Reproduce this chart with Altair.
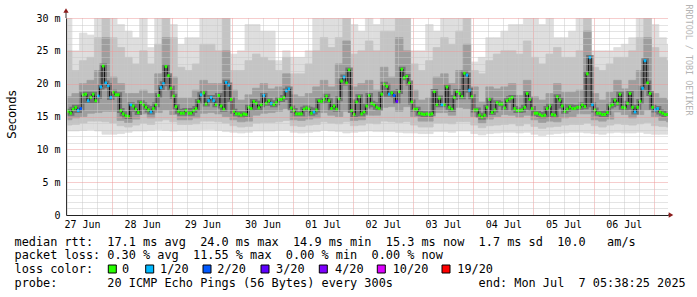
import altair as alt
import pandas as pd

NB = "\u00a0"
MONO = "DejaVu Sans Mono"

# ---------------- data ----------------
X_START = 5.64      # hours after 27 Jun 00:00
X_END = 245.64      # Mon Jul 7 05:38:25

day_labels = ["27 Jun", "28 Jun", "29 Jun", "30 Jun", "01 Jul",
              "02 Jul", "03 Jul", "04 Jul", "05 Jul", "06 Jul"]

median_hours = list(range(5, 246))
median_ms = [
    15.8,
    15.8, 15.5, 16.1, 16.4, 15.9, 16.2, 18.3, 18.4, 17.4, 17.9,
    18.4, 17.4, 18.1, 19.5, 22.7, 20.1, 19.7, 17.9, 18.7, 18.3,
    18.3, 15.9, 15.4, 15.1, 15.0, 16.8, 16.6, 16.1, 15.6, 17.1,
    16.8, 16.4, 16.0, 15.7, 16.2, 16.8, 18.2, 19.4, 20.0, 22.6,
    21.2, 19.3, 18.1, 16.5, 15.8, 15.5, 15.5, 15.9, 15.5, 15.5,
    15.9, 16.2, 17.3, 18.3, 18.6, 16.9, 17.4, 17.9, 17.4, 16.8,
    18.2,
    16.6, 16.1, 20.2, 19.8, 17.6, 15.8, 15.4, 15.4, 15.2, 15.4,
    15.3, 16.4, 16.2, 17.3, 17.0, 16.3, 16.8, 18.2, 17.0, 17.4,
    17.0, 16.8, 17.1, 17.6, 17.6, 17.9, 18.9, 19.2, 16.3, 15.9,
    15.4, 15.4, 15.4, 16.1, 16.3, 16.1, 15.5, 15.7, 16.0, 17.4,
    17.3, 17.6, 18.1, 17.4, 16.2, 16.6, 16.1, 17.7, 20.4, 21.0,
    20.1, 22.1, 15.9, 15.3, 17.2, 18.0, 15.4, 15.7, 16.6, 18.2,
    17.0, 16.8, 16.4, 16.2, 18.4, 19.9, 19.6, 18.4, 18.6, 18.2,
    17.3, 18.8, 22.2, 20.9, 21.1, 20.1, 17.2, 16.1, 16.1, 15.5,
    15.4, 15.3, 15.4, 15.3, 15.4, 18.8, 16.8, 17.8, 16.8, 16.8,
    19.5, 16.4, 16.1, 17.9, 18.8, 18.5, 18.0, 21.6, 21.3, 19.0,
    18.0, 16.0, 16.0, 15.2, 14.9, 15.2, 16.4, 17.6, 15.6, 16.0,
    17.1, 16.9, 16.9, 16.3, 17.4, 17.7, 17.9, 16.2, 15.9,
    15.9, 16.0, 16.4, 18.5, 17.6, 16.2, 15.5, 15.5, 15.3, 15.1,
    15.2, 16.2, 16.6, 15.3, 15.2, 18.0, 17.5, 16.6, 15.8, 16.1,
    16.5, 16.2, 16.2, 16.4, 16.4, 16.8, 16.5, 21.5, 24.0, 16.8,
    16.0, 15.5, 15.5, 15.3, 15.3, 15.6, 16.6, 16.8, 17.5, 17.0,
    18.4, 16.4, 16.3, 17.0, 18.5, 16.4, 15.7, 16.4, 17.3, 19.3,
    23.5, 20.1, 18.5, 16.4, 16.0, 16.2, 15.7, 15.5, 15.3,
    15.3,
]

loss_hours = [10, 11, 14, 18, 19, 21, 22, 23, 31, 39, 43, 44, 59, 62, 63, 64,
              69, 70, 84, 87, 93, 94, 104, 116, 134, 136, 137, 155, 165, 166,
              214, 215, 232, 235, 236, 240, 241]
loss_counts = [1, 2, 1, 1, 1, 1, 1, 1, 1, 1, 1, 1, 1, 1, 1, 1,
               1, 1, 1, 1, 1, 1, 1, 1, 1, 2, 3, 1, 1, 1,
               1, 1, 1, 1, 1, 1, 1]

loss_labels = ["0", "1/20", "2/20", "3/20", "4/20", "10/20", "19/20"]
loss_colors = ["#26ff00", "#00b8ff", "#0059ff", "#5e00ff", "#7e00ff", "#dd00ff", "#ff0000"]

# smoke, in 3-hour blocks starting at hour 5
block_start = list(range(5, 246, 3))
smoke_top1 = [30, 25, 27.7, 27.4, 30, 30, 30, 29, 28, 27,
              30, 25.5, 30, 30, 29, 26, 27, 27, 30, 30,
              30, 30, 24.5, 25, 29, 29, 28, 28, 23.5, 25,
              24, 24, 25, 30, 30, 30, 30, 30, 29, 28,
              30, 29, 30, 30, 30, 30, 25, 25, 29, 28,
              30, 30, 30, 30, 23.3, 24, 27, 27, 28, 29,
              29, 30, 30, 29, 30, 27, 27, 28, 30, 30,
              25, 25, 25, 25.5, 26, 27, 30, 30, 29, 27,
              26]
smoke_top2 = [25, 22, 23.5, 24, 27, 30, 27, 25.5, 24, 23,
              25, 23, 26, 30, 27, 22.5, 22, 23, 26, 26,
              25, 30, 22, 22, 23.5, 24.5, 24, 23.5, 22, 24,
              21.5, 21.5, 23, 25, 27, 25.5, 27, 30, 24.5, 25,
              26.5, 25, 28, 28, 30, 30, 23, 22, 23.5, 25.5,
              27, 26, 28, 30, 22, 21.5, 23.5, 24.5, 25, 25,
              24.5, 26.5, 24, 23, 24.5, 25.5, 24, 24, 25, 30,
              22.5, 22, 23, 24, 24, 25, 27, 30, 25.5, 24,
              23.5]
smoke_top3 = [18, 18.5, 20, 20.5, 22, 27, 21, 20, 18.5, 18.5,
              19, 18.5, 21.5, 27, 21, 17.8, 17.8, 19, 20.5, 20,
              20, 25, 19, 17.5, 18.3, 19.3, 20, 19.2, 19.5, 21.5,
              18.3, 18, 18.5, 19.5, 20.5, 19.5, 23, 26.5, 19.5, 20,
              20.5, 19, 22.5, 21, 27, 25, 19, 17.5, 17.8, 21,
              21.5, 20, 22, 26, 19.5, 17.2, 19.5, 19.2, 19.5, 20,
              18.2, 20.5, 18, 17.5, 18.5, 20, 18.7, 18.7, 19, 28,
              18.5, 17.5, 18.7, 20.5, 19.2, 20.5, 22, 27, 18.5, 17.8,
              17.5]
smoke_bot3 = [14.5, 14.8, 15.0, 15.5, 15.6, 15.8, 15.8, 14.4, 14.1, 14.6,
              15.4, 14.8, 15.6, 16.0, 15.3, 14.5, 14.5, 14.8, 15.5, 15.6,
              15.4, 15.0, 14.5, 14.2, 14.3, 15.2, 15.5, 15.6, 15.8, 16.2,
              14.5, 14.4, 14.6, 14.8, 15.6, 15.2, 15.0, 15.8, 14.4, 14.5,
              15.2, 15.2, 16.4, 16.5, 15.8, 16.5, 15.0, 14.3, 14.3, 15.6,
              15.6, 15.2, 16.4, 16.2, 15.0, 14.0, 14.6, 15.0, 15.3, 15.2,
              14.9, 15.2, 14.5, 14.1, 14.3, 14.2, 14.8, 15.0, 15.4, 15.4,
              14.5, 14.3, 14.6, 15.7, 15.3, 14.8, 15.3, 16.0, 15.0, 14.4,
              14.2]
smoke_bot2 = [13.7, 13.8, 14.0, 14.3, 14.3, 14.2, 14.0, 13.6, 13.4, 13.7,
              14.0, 13.8, 14.3, 14.5, 14.2, 13.8, 13.8, 13.9, 14.3, 14.3,
              14.2, 14.0, 13.6, 13.4, 13.5, 14.0, 14.1, 14.1, 14.2, 14.4,
              13.6, 13.5, 13.7, 13.8, 14.2, 14.0, 13.9, 14.2, 13.6, 13.7,
              14.0, 13.9, 14.3, 14.2, 14.1, 14.2, 13.7, 13.4, 13.4, 14.0,
              14.0, 13.9, 14.2, 14.2, 13.7, 13.3, 13.6, 13.7, 13.8, 13.9,
              13.6, 13.9, 13.5, 13.2, 13.4, 13.5, 13.7, 13.8, 13.8, 14.0,
              13.6, 13.4, 13.7, 13.9, 13.8, 13.7, 13.9, 14.1, 13.6, 13.5,
              13.4]
smoke_bot1 = [12.8, 12.8, 12.9, 13.0, 12.8, 12.3, 12.3, 12.4, 12.6, 12.8,
              12.8, 12.9, 13.0, 12.9, 12.8, 12.9, 12.9, 12.9, 13.0, 13.0,
              12.9, 12.7, 12.6, 12.5, 12.6, 12.8, 12.8, 12.8, 12.9, 12.9,
              12.6, 12.5, 12.6, 12.7, 12.9, 12.8, 12.7, 12.5, 12.6, 12.7,
              12.8, 12.7, 12.7, 12.7, 12.6, 12.5, 12.5, 12.4, 12.4, 12.7,
              12.7, 12.6, 12.8, 12.8, 12.4, 12.2, 12.4, 12.5, 12.6, 12.6,
              12.5, 12.6, 12.3, 12.1, 12.3, 12.4, 12.5, 12.6, 12.6, 12.5,
              12.4, 12.3, 12.5, 12.6, 12.5, 12.5, 12.6, 12.4, 12.3, 12.3,
              12.3]

# ---------------- tables ----------------
loss_map = dict(zip(loss_hours, loss_counts))
med_df = pd.DataFrame({
    "h": median_hours,
    "ms": median_ms,
    "loss": [f"{loss_map[h]}/20" if h in loss_map else "0" for h in median_hours],
})
smoke_df = pd.DataFrame({
    "start": block_start,
    "top1": smoke_top1, "top2": smoke_top2, "top3": smoke_top3,
    "bot3": smoke_bot3, "bot2": smoke_bot2, "bot1": smoke_bot1,
})
one = pd.DataFrame({"k": [0]})

# ---------------- scales / axes ----------------
xs = alt.Scale(domain=[X_START, X_END], nice=False, zero=False)
ys = alt.Scale(domain=[0, 30], nice=False, zero=True)

minor_x = [h for h in range(6, 246, 6) if h % 24 != 0]
major_x = list(range(24, 246, 24))
label_x = [12 + 24 * i for i in range(len(day_labels))]
minor_y = [v for v in range(1, 30) if v % 5 != 0]
major_y = list(range(5, 31, 5))

GRID_MINOR = "#c8c8c8"
GRID_MAJOR = "#ec9a9a"

ax_x_minor = alt.Axis(orient="bottom", values=minor_x, grid=True, gridColor=GRID_MINOR,
                      gridDash=[1, 1], gridWidth=1, labels=False, ticks=False,
                      domain=False, title=None, zindex=1)
ax_y_minor = alt.Axis(orient="left", values=minor_y, grid=True, gridColor=GRID_MINOR,
                      gridDash=[1, 1], gridWidth=1, labels=False, ticks=False,
                      domain=False, title=None, zindex=1)
ax_x_major = alt.Axis(orient="bottom", values=major_x, grid=True, gridColor=GRID_MAJOR,
                      gridDash=[1, 1], gridWidth=1, labels=False, ticks=False,
                      domain=False, title=None, zindex=1)
ax_y_major = alt.Axis(orient="left", values=major_y, grid=True, gridColor=GRID_MAJOR,
                      gridDash=[1, 1], gridWidth=1, labels=False, ticks=False,
                      domain=False, title=None, zindex=1)

label_expr_x = "[" + ",".join("'" + d.replace(" ", NB) + "'" for d in day_labels) + "][floor(datum.value/24)]"
ax_x_labels = alt.Axis(orient="bottom", values=label_x, grid=False, ticks=False,
                       labelExpr=label_expr_x, labelFont=MONO, labelFontSize=10,
                       labelColor="#000000", labelPadding=4, labelOverlap=False,
                       labelFlush=False, domain=True, domainColor="#222222",
                       domainWidth=1, title=None, zindex=1)
ax_y_labels = alt.Axis(orient="left", values=major_y + [0], grid=False, ticks=False,
                       labelExpr=f"datum.value == 0 ? '0{NB}{NB}' : datum.value + '{NB}m'",
                       labelFont=MONO, labelFontSize=10, labelColor="#000000",
                       labelPadding=6, labelOverlap=False, labelFlush=False,
                       domain=True, domainColor="#333333", domainWidth=1,
                       title="Seconds", titleFont="DejaVu Sans", titleFontSize=11.5,
                       titleFontWeight="normal", titleColor="#000000",
                       titleX=-54, titleY=96, titleAngle=270, titleAlign="center",
                       titleBaseline="middle", zindex=1)


def smoke(lo, hi, color, xax, yax):
    return alt.Chart(smoke_df).transform_calculate(end="datum.start + 3").mark_rect(
        color=color, stroke=color, strokeWidth=0.8, clip=True
    ).encode(
        x=alt.X("start:Q", scale=xs, axis=xax),
        x2="end:Q",
        y=alt.Y(f"{lo}:Q", scale=ys, axis=yax),
        y2=f"{hi}:Q",
    )


s1 = smoke("bot1", "top1", "#dedede", ax_x_minor, ax_y_minor)
s2 = smoke("bot2", "top2", "#c4c4c4", ax_x_major, ax_y_major)
s3 = smoke("bot3", "top3", "#9e9e9e", ax_x_labels, ax_y_labels)

halo = alt.Chart(med_df).mark_line(
    interpolate="step-after", color="#555555", strokeWidth=5, opacity=0.6, clip=True
).encode(x=alt.X("h:Q", scale=xs, axis=None), y=alt.Y("ms:Q", scale=ys, axis=None))

med_line = alt.Chart(med_df).mark_line(
    interpolate="step-after", color="#111111", strokeWidth=1, clip=True
).encode(x=alt.X("h:Q", scale=xs, axis=None), y=alt.Y("ms:Q", scale=ys, axis=None))

loss_segs = alt.Chart(med_df).transform_calculate(h_end="datum.h + 1").mark_rule(
    strokeWidth=3, clip=True
).encode(
    x=alt.X("h:Q", scale=xs, axis=None),
    x2="h_end:Q",
    y=alt.Y("ms:Q", scale=ys, axis=None),
    color=alt.Color("loss:N", scale=alt.Scale(domain=loss_labels, range=loss_colors), legend=None),
)

# ---------------- decorations (pixel layout, relative to plot origin 66,18) ----------------
OX, OY = 66, 18


def px(x):
    return x - OX


def py(y):
    return y - OY


y_ext = alt.Chart(one).mark_rule(color="#333333", strokeWidth=1).encode(
    x=alt.value(0), y=alt.value(py(12)), y2=alt.value(0))
arrow_up = alt.Chart(one).mark_point(shape="triangle-up", filled=True, size=28,
                                     color="#8b1c1c", opacity=1).encode(
    x=alt.value(0), y=alt.value(py(10.5)))
arrow_right = alt.Chart(one).mark_point(shape="triangle-right", filled=True, size=28,
                                        color="#8b1c1c", opacity=1).encode(
    x=alt.value(px(671)), y=alt.value(py(215)))
x_ext = alt.Chart(one).mark_rule(color="#222222", strokeWidth=1).encode(
    x=alt.value(px(668)), x2=alt.value(px(670)), y=alt.value(py(215)))


def txt(s, x, y, size=11.86, color="#000000", font=MONO, angle=0, align="left"):
    return alt.Chart(one).mark_text(
        font=font, fontSize=size, color=color, align=align, baseline="middle", angle=angle
    ).encode(x=alt.value(px(x)), y=alt.value(py(y)), text=alt.value(s.replace(" ", NB)))


LX = 14.5
lines = [
    txt("median rtt:  17.1 ms avg  24.0 ms max  14.9 ms min  15.3 ms now  1.7 ms sd  10.0   am/s", LX, 241.7),
    txt("packet loss: 0.30 % avg  11.55 % max  0.00 % min  0.00 % now", LX, 255.4),
    txt("loss color:", LX, 269.0),
    txt("probe:       20 ICMP Echo Pings (56 Bytes) every 300s            end: Mon Jul  7 05:38:25 2025", LX, 282.7),
    txt("RRDTOOL / TOBI OETIKER", 688.5, 60, size=8.4, color="#b4b4b4", angle=90, align="center"),
]

sq_x = [108.3, 145.7, 203.0, 261.0, 319.3, 377.3, 442.0]
lab_x = [122.0, 160.0, 217.3, 276.0, 335.0, 392.7, 457.3]
squares = []
for lab, col, sx, lx in zip(loss_labels, loss_colors, sq_x, lab_x):
    squares.append(alt.Chart(one).mark_rect(fill=col, stroke="#000000", strokeWidth=1).encode(
        x=alt.value(px(sx)), x2=alt.value(px(sx + 8)),
        y=alt.value(py(265)), y2=alt.value(py(273))))
    squares.append(txt(lab, lx, 269.0))

chart = alt.layer(
    s1, s2, s3, halo, med_line, loss_segs, y_ext, x_ext, arrow_up, arrow_right,
    *lines, *squares
).resolve_axis(
    x="independent", y="independent"
).properties(
    width=602, height=197,
    padding={"left": 66, "top": 18, "right": 29, "bottom": 82},
    autosize=alt.AutoSizeParams(type="none"),
    background="#ffffff",
).configure_view(strokeWidth=0)

chart.save("out.html", embed_options={"renderer": "svg", "actions": False})
